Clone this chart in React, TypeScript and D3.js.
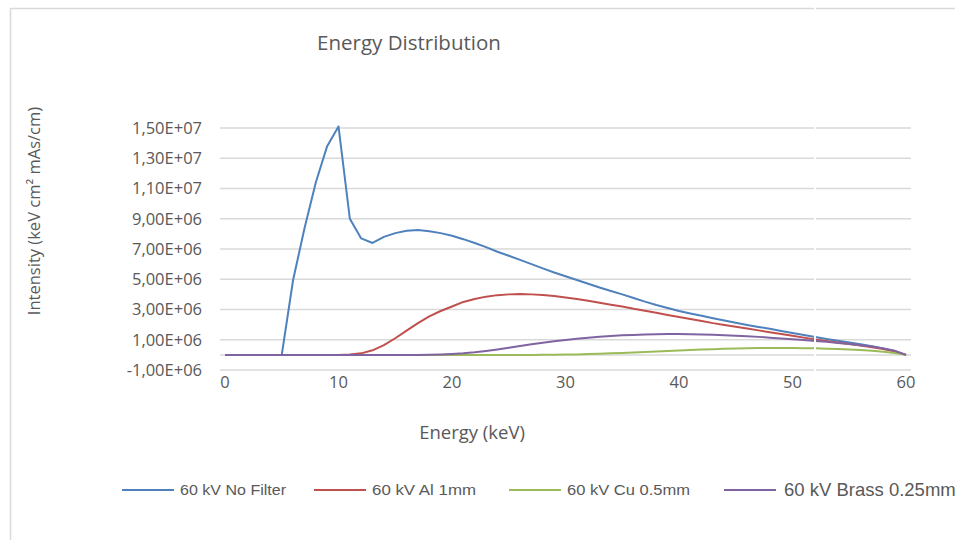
import React, { useEffect, useRef } from 'react';
import * as d3 from 'd3';

// energy axis (keV)
const energies = [
  0, 1, 2, 3, 4, 5, 6, 7, 8, 9, 10, 11, 12, 13, 14, 15, 16, 17, 18, 19, 20,
  21, 22, 23, 24, 25, 26, 27, 28, 29, 30, 31, 32, 33, 34, 35, 36, 37, 38, 39, 40,
  41, 42, 43, 44, 45, 46, 47, 48, 49, 50, 51, 52, 53, 54, 55, 56, 57, 58, 59, 60,
];

const noFilter = [
  0, 0, 0, 0, 0, 0, 4.95e6, 8.35e6, 1.14e7, 1.38e7, 1.51e7, 9.0e6, 7.7e6, 7.4e6, 7.8e6, 8.05e6, 8.2e6, 8.25e6, 8.18e6, 8.05e6, 7.88e6,
  7.65e6, 7.4e6, 7.12e6, 6.82e6, 6.55e6, 6.28e6, 6.0e6, 5.72e6, 5.45e6, 5.2e6, 4.95e6, 4.7e6, 4.45e6, 4.22e6, 4.0e6, 3.76e6, 3.52e6, 3.3e6, 3.1e6, 2.9e6,
  2.74e6, 2.58e6, 2.42e6, 2.27e6, 2.12e6, 1.98e6, 1.85e6, 1.72e6, 1.58e6, 1.45e6, 1.32e6, 1.18e6, 1.05e6, 0.93e6, 0.82e6, 0.7e6, 0.57e6, 0.43e6, 0.25e6, 0,
];

const al1mm = [
  0, 0, 0, 0, 0, 0, 0, 0, 0, 0, 0, 0.02e6, 0.1e6, 0.3e6, 0.65e6, 1.1e6, 1.6e6, 2.1e6, 2.55e6, 2.9e6, 3.2e6,
  3.5e6, 3.7e6, 3.85e6, 3.95e6, 4.0e6, 4.02e6, 4.0e6, 3.96e6, 3.89e6, 3.8e6, 3.7e6, 3.58e6, 3.45e6, 3.32e6, 3.2e6, 3.05e6, 2.92e6, 2.78e6, 2.64e6, 2.5e6,
  2.37e6, 2.24e6, 2.1e6, 1.98e6, 1.86e6, 1.74e6, 1.62e6, 1.5e6, 1.38e6, 1.26e6, 1.14e6, 1.02e6, 0.92e6, 0.82e6, 0.72e6, 0.62e6, 0.5e6, 0.38e6, 0.22e6, 0,
];

const cu05mm = [
  0, 0, 0, 0, 0, 0, 0, 0, 0, 0, 0, 0, 0, 0, 0, 0, 0, 0, 0, 0, 0,
  0, 0, 0, 0, 0, 0, 0, 0.005e6, 0.01e6, 0.02e6, 0.03e6, 0.05e6, 0.07e6, 0.1e6, 0.13e6, 0.16e6, 0.19e6, 0.22e6, 0.26e6, 0.29e6,
  0.32e6, 0.35e6, 0.38e6, 0.4e6, 0.42e6, 0.44e6, 0.45e6, 0.46e6, 0.46e6, 0.45e6, 0.44e6, 0.43e6, 0.41e6, 0.39e6, 0.36e6, 0.32e6, 0.27e6, 0.2e6, 0.12e6, 0,
];

const brass025mm = [
  0, 0, 0, 0, 0, 0, 0, 0, 0, 0, 0, 0, 0, 0, 0, 0, 0, 0, 0.01e6, 0.03e6, 0.06e6,
  0.1e6, 0.17e6, 0.26e6, 0.36e6, 0.47e6, 0.58e6, 0.7e6, 0.8e6, 0.9e6, 0.98e6, 1.06e6, 1.13e6, 1.2e6, 1.25e6, 1.29e6, 1.32e6, 1.35e6, 1.37e6, 1.38e6, 1.38e6,
  1.37e6, 1.35e6, 1.33e6, 1.3e6, 1.27e6, 1.23e6, 1.19e6, 1.14e6, 1.09e6, 1.04e6, 0.98e6, 0.92e6, 0.86e6, 0.79e6, 0.72e6, 0.64e6, 0.55e6, 0.43e6, 0.27e6, 0,
];

const seriesNames = ['60 kV No Filter', '60 kV Al 1mm', '60 kV Cu 0.5mm', '60 kV Brass 0.25mm'];
const seriesColors = ['#4F81BD', '#C0504D', '#9BBB59', '#8064A2'];
const yTicks = [-1e6, 1e6, 3e6, 5e6, 7e6, 9e6, 1.1e7, 1.3e7, 1.5e7];
const xTicks = [0, 10, 20, 30, 40, 50, 60];

const fmtY = (v: number) => v.toExponential(2).replace('.', ',').replace('e+', 'E+0');

const App = () => {
  const svgRef = useRef<SVGSVGElement>(null);

  useEffect(() => {
    const svg = d3.select(svgRef.current);
    svg.selectAll('*').remove();

    const x = d3.scaleLinear().domain([0, 60]).range([225, 906]);
    const y = d3.scaleLinear().domain([-1e6, 1.5e7]).range([370, 128]);
    const grey = '#595959';

    svg.append('rect').attr('width', 955).attr('height', 540).attr('fill', '#fff');

    // chart frame
    svg.append('line').attr('x1', 10.5).attr('x2', 10.5).attr('y1', 8).attr('y2', 540)
      .attr('stroke', '#d9d9d9').attr('stroke-width', 1.5);
    svg.append('line').attr('x1', 10).attr('x2', 955).attr('y1', 8.5).attr('y2', 8.5)
      .attr('stroke', '#d9d9d9').attr('stroke-width', 1.5);

    // gridlines
    svg.append('g')
      .selectAll('line')
      .data([...yTicks, 0])
      .enter()
      .append('line')
      .attr('x1', 220)
      .attr('x2', 911)
      .attr('y1', d => y(d))
      .attr('y2', d => y(d))
      .attr('stroke', '#d9d9d9')
      .attr('stroke-width', 1.5);

    // y tick labels
    svg.append('g')
      .selectAll('text')
      .data(yTicks)
      .enter()
      .append('text')
      .attr('x', 202)
      .attr('y', d => y(d))
      .attr('dy', '0.35em')
      .attr('text-anchor', 'end')
      .style('font-family', 'Open Sans')
      .style('font-size', '16.5px')
      .attr('fill', grey)
      .text(fmtY);

    // x tick labels
    svg.append('g')
      .selectAll('text')
      .data(xTicks)
      .enter()
      .append('text')
      .attr('x', d => x(d))
      .attr('y', 388)
      .attr('text-anchor', 'middle')
      .style('font-family', 'Open Sans')
      .style('font-size', '16.5px')
      .attr('fill', grey)
      .text(d => d);

    // lines
    const series = [noFilter, al1mm, cu05mm, brass025mm];
    const line = d3.line<number>().x((_, i) => x(energies[i])).y(d => y(d));
    svg.append('g')
      .selectAll('path')
      .data(series)
      .enter()
      .append('path')
      .attr('d', d => line(d))
      .attr('fill', 'none')
      .attr('stroke', (_, i) => seriesColors[i])
      .attr('stroke-width', 2)
      .attr('stroke-linejoin', 'round');

    // screenshot seam
    svg.append('rect').attr('x', 814).attr('y', 0).attr('width', 2).attr('height', 378).attr('fill', '#fff');

    // titles
    svg.append('text')
      .attr('x', 409)
      .attr('y', 50)
      .attr('text-anchor', 'middle')
      .style('font-family', 'Open Sans')
      .style('font-size', '20.5px')
      .attr('fill', grey)
      .text('Energy Distribution');

    svg.append('text')
      .attr('transform', 'translate(40, 211) rotate(-90)')
      .attr('text-anchor', 'middle')
      .style('font-family', 'Open Sans')
      .style('font-size', '16.5px')
      .attr('fill', grey)
      .text('Intensity (keV cm² mAs/cm)');

    svg.append('text')
      .attr('x', 472)
      .attr('y', 439)
      .attr('text-anchor', 'middle')
      .style('font-family', 'Open Sans')
      .style('font-size', '18.5px')
      .attr('fill', grey)
      .text('Energy (keV)');

    // legend
    const legendX = [122, 314, 509, 724];
    const legendSize = [15, 15.5, 15.5, 18.5];
    const legendWidth = [106, 104, 123, null];
    const legend = svg.append('g')
      .selectAll('g')
      .data(seriesNames)
      .enter()
      .append('g')
      .attr('transform', (_, i) => `translate(${legendX[i]}, 490)`);

    legend.append('line')
      .attr('x1', 0)
      .attr('x2', 52)
      .attr('stroke', (_, i) => seriesColors[i])
      .attr('stroke-width', 2);

    legend.append('text')
      .attr('x', (_, i) => (i === 3 ? 60 : 58))
      .attr('dy', '0.35em')
      .attr('textLength', (_, i) => legendWidth[i])
      .attr('lengthAdjust', 'spacingAndGlyphs')
      .style('font-family', 'Liberation Sans, Arial')
      .style('font-size', (_, i) => `${legendSize[i]}px`)
      .attr('fill', grey)
      .text(d => d);
  }, []);

  return (
    <svg
      ref={svgRef}
      width={955}
      height={540}
      style={{ position: 'absolute', left: 0, top: 0, display: 'block' }}
    ></svg>
  );
};

export default App;
